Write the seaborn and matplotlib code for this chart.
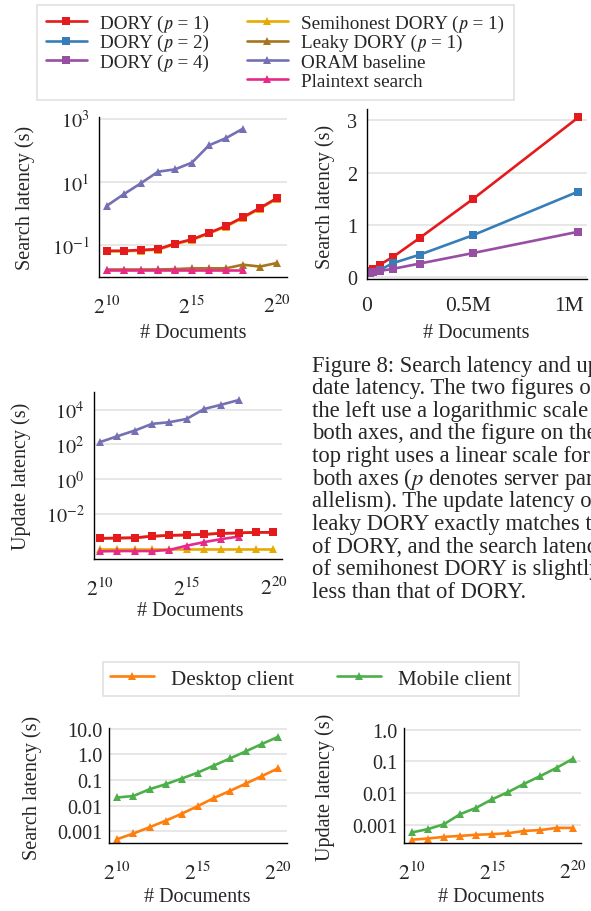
import numpy as np
import pandas as pd
import matplotlib
matplotlib.use("Agg")
import matplotlib.pyplot as plt
import seaborn as sns
from matplotlib.lines import Line2D

# ---------------- data ----------------
docs_log = [2**10, 2**11, 2**12, 2**13, 2**14, 2**15, 2**16, 2**17, 2**18, 2**19, 2**20]
docs_short = [2**10, 2**11, 2**12, 2**13, 2**14, 2**15, 2**16, 2**17, 2**18]
docs_lin = [2**14, 2**15, 2**16, 2**17, 2**18, 2**19, 2**20]

search_dory1 = [0.065, 0.065, 0.069, 0.073, 0.11, 0.15, 0.24, 0.40, 0.76, 1.49, 3.06]
search_semi = [0.062, 0.062, 0.066, 0.070, 0.105, 0.143, 0.23, 0.38, 0.72, 1.42, 2.92]
search_leaky = [0.0165, 0.0165, 0.0165, 0.0166, 0.017, 0.018, 0.018, 0.018, 0.0235, 0.0205, 0.0266]
search_oram = [1.76, 4.1, 9.1, 21, 25, 41, 145, 245, 490]
search_plain = [0.016, 0.016, 0.016, 0.016, 0.016, 0.016, 0.016, 0.016, 0.016]

lin_dory1 = [0.11, 0.16, 0.24, 0.39, 0.75, 1.49, 3.06]
lin_dory2 = [0.09, 0.10, 0.14, 0.27, 0.43, 0.80, 1.64]
lin_dory4 = [0.08, 0.09, 0.12, 0.16, 0.26, 0.46, 0.87]
lin_ticks = [0, 500000, 1000000]
lin_ticklabels = ["0", "0.5M", "1M"]

update_dory1 = [4.0e-4, 4.1e-4, 4.3e-4, 5.2e-4, 5.9e-4, 6.2e-4, 6.7e-4, 7.7e-4, 8.1e-4, 8.8e-4, 8.8e-4]
update_leaky = [4.0e-4, 4.1e-4, 4.3e-4, 5.2e-4, 5.9e-4, 6.2e-4, 6.7e-4, 7.7e-4, 8.1e-4, 8.8e-4, 8.8e-4]
update_semi = [1.0e-4, 1.0e-4, 1.0e-4, 1.0e-4, 1.0e-4, 1.0e-4, 1.0e-4, 1.0e-4, 1.0e-4, 1.0e-4, 1.0e-4]
update_oram = [137, 300, 630, 1540, 1910, 2960, 11000, 19500, 36000]
update_plain = [7.1e-5, 7.4e-5, 7.4e-5, 7.4e-5, 8.5e-5, 1.5e-4, 2.4e-4, 3.6e-4, 5.0e-4]

desktop_search = [5.0e-4, 8.3e-4, 1.45e-3, 2.6e-3, 4.9e-3, 9.7e-3, 0.020, 0.038, 0.074, 0.146, 0.29]
mobile_search = [0.021, 0.024, 0.044, 0.069, 0.115, 0.196, 0.37, 0.70, 1.34, 2.6, 4.9]
desktop_update = [3.5e-4, 3.8e-4, 4.3e-4, 4.6e-4, 5.0e-4, 5.2e-4, 5.6e-4, 6.6e-4, 7.0e-4, 8.2e-4, 8.2e-4]
mobile_update = [5.9e-4, 7.5e-4, 1.07e-3, 2.2e-3, 3.5e-3, 6.5e-3, 0.011, 0.020, 0.035, 0.063, 0.12]

# italic p as the math-italic character (U+1D45D), so all legend rows are plain text
labels_main = ["DORY (\U0001D45D = 1)", "DORY (\U0001D45D = 2)", "DORY (\U0001D45D = 4)",
               "Semihonest DORY (\U0001D45D = 1)", "Leaky DORY (\U0001D45D = 1)",
               "ORAM baseline", "Plaintext search"]
labels_client = ["Desktop client", "Mobile client"]

caption_lines = [
    "Figure 8: Search latency and up-",
    "date latency. The two figures on",
    "the left use a logarithmic scale for",
    "both axes, and the figure on the",
    "top right uses a linear scale for",
    "both axes ($p$ denotes server par-",
    "allelism). The update latency of",
    "leaky DORY exactly matches that",
    "of DORY, and the search latency",
    "of semihonest DORY is slightly",
    "less than that of DORY.",
]

# ---------------- style ----------------
sns.set_style("white")
plt.rcParams['font.family'] = ['Liberation Serif', 'STIXGeneral', 'DejaVu Serif']
plt.rcParams['mathtext.fontset'] = 'stix'
plt.rcParams['axes.unicode_minus'] = True
FS = 14.5
FSX = 15.5

C = {
    "d1": "#e41a1c", "d2": "#377eb8", "d4": "#984ea3",
    "semi": "#e6ab02", "leaky": "#a6761d", "oram": "#7570b3", "plain": "#e7298a",
    "desk": "#ff7f0e", "mob": "#4daf4a",
}
LW = 1.9
MS = 6

W, H = 591, 912
fig = plt.figure(figsize=(W / 100, H / 100), dpi=100)


def add_ax(l, r, t, b):
    return fig.add_axes([l / W, 1 - b / H, (r - l) / W, (b - t) / H])


def style(ax, xpad=13, ypad=7):
    ax.grid(False)
    ax.yaxis.grid(True, color="#e3e3e3", linewidth=1.2)
    ax.set_axisbelow(True)
    for s in ["top", "right"]:
        ax.spines[s].set_visible(False)
    for s in ["left", "bottom"]:
        ax.spines[s].set_color("black")
        ax.spines[s].set_linewidth(1.0)
    ax.tick_params(axis="both", which="both", length=0)
    ax.tick_params(axis="x", pad=xpad, labelsize=FSX)
    ax.tick_params(axis="y", pad=ypad, labelsize=FS)
    ax.minorticks_off()


def line(ax, x, y, color, marker):
    sns.lineplot(x=x, y=y, ax=ax, color=color, marker=marker, markersize=MS,
                 markeredgewidth=0, linewidth=LW, legend=False,
                 estimator=None, sort=False)


def set_labels(ax, box, xl, yl, xlab_xy, ylab_xy):
    l, r, t, b = box
    ax.set_xlabel(xl, fontsize=FS, va="center")
    ax.set_ylabel(yl, fontsize=FS, va="center")
    ax.xaxis.set_label_coords((xlab_xy[0] - l) / (r - l), (b - xlab_xy[1]) / (b - t))
    ax.yaxis.set_label_coords((ylab_xy[0] - l) / (r - l), (b - ylab_xy[1]) / (b - t))


def log2x(ax, lo, hi):
    ax.set_xscale("log", base=2)
    ax.set_xlim(2**lo, 2**hi)
    ax.set_xticks([2**10, 2**15, 2**20])
    ax.set_xticklabels(["$2^{10}$", "$2^{15}$", "$2^{20}$"])
    ax.minorticks_off()


# ---- top-left: search latency (log) ----
b1 = (99, 287, 118, 278)
ax1 = add_ax(*b1)
line(ax1, docs_log, search_semi, C["semi"], "^")
line(ax1, docs_log, search_leaky, C["leaky"], "^")
line(ax1, docs_short, search_oram, C["oram"], "^")
line(ax1, docs_short, search_plain, C["plain"], "^")
line(ax1, docs_log, search_dory1, C["d1"], "s")
ax1.set_yscale("log")
ax1.set_ylim(10**-2.02, 10**3.06)
ax1.set_yticks([1e-1, 1e1, 1e3])
ax1.set_yticklabels(["$10^{-1}$", "$10^{1}$", "$10^{3}$"])
log2x(ax1, 9.53, 20.59)
style(ax1)
set_labels(ax1, b1, "# Documents", "Search latency (s)", (193, 333), (25, 198))

# ---- top-right: linear ----
b2 = (366.7, 586.7, 110, 280)
ax2 = add_ax(*b2)
line(ax2, docs_lin, lin_dory1, C["d1"], "s")
line(ax2, docs_lin, lin_dory2, C["d2"], "s")
line(ax2, docs_lin, lin_dory4, C["d4"], "s")
ax2.set_xlim(0, 1.09e6)
ax2.set_ylim(-0.035, 3.22)
ax2.set_xticks(lin_ticks)
ax2.set_xticklabels(lin_ticklabels)
ax2.set_yticks([0, 1, 2, 3])
ax2.set_yticklabels(["0", "1", "2", "3"])
style(ax2, xpad=12)
set_labels(ax2, b2, "# Documents", "Search latency (s)", (476, 333), (325, 197))

# ---- mid-left: update latency ----
b3 = (94.3, 281.7, 393, 560)
ax3 = add_ax(*b3)
line(ax3, docs_log, update_semi, C["semi"], "^")
line(ax3, docs_short, update_plain, C["plain"], "^")
line(ax3, docs_log, update_leaky, C["leaky"], "^")
line(ax3, docs_short, update_oram, C["oram"], "^")
line(ax3, docs_log, update_dory1, C["d1"], "s")
ax3.set_yscale("log")
ax3.set_ylim(10**-4.59, 10**5.02)
ax3.set_yticks([1e-2, 1e0, 1e2, 1e4])
ax3.set_yticklabels(["$10^{-2}$", "$10^{0}$", "$10^{2}$", "$10^{4}$"])
log2x(ax3, 9.67, 20.48)
style(ax3)
set_labels(ax3, b3, "# Documents", "Update latency (s)", (190, 612), (21.5, 476))

# ---- bottom-left: client search ----
b4 = (109.3, 286.7, 729.3, 844.3)
ax4 = add_ax(*b4)
line(ax4, docs_log, desktop_search, C["desk"], "^")
line(ax4, docs_log, mobile_search, C["mob"], "^")
ax4.set_yscale("log")
ax4.set_ylim(10**-3.465, 10**1.02)
ax4.set_yticks([1e-3, 1e-2, 1e-1, 1e0, 1e1])
ax4.set_yticklabels(["0.001", "0.01", "0.1", "1.0", "10.0"])
log2x(ax4, 9.5, 20.52)
style(ax4, ypad=5)
set_labels(ax4, b4, "# Documents", "Search latency (s)", (197.5, 898), (31.7, 787.5))

# ---- bottom-right: client update ----
b5 = (404, 580.7, 729.3, 844)
ax5 = add_ax(*b5)
line(ax5, docs_log, desktop_update, C["desk"], "^")
line(ax5, docs_log, mobile_update, C["mob"], "^")
ax5.set_yscale("log")
ax5.set_ylim(10**-3.56, 10**0.04)
ax5.set_yticks([1e-3, 1e-2, 1e-1, 1e0])
ax5.set_yticklabels(["0.001", "0.01", "0.1", "1.0"])
log2x(ax5, 9.52, 20.5)
style(ax5, ypad=5)
set_labels(ax5, b5, "# Documents", "Update latency (s)", (491.7, 898), (325, 787))


# ---------------- legends ----------------
def handle(color, marker):
    return Line2D([], [], color=color, marker=marker, markersize=MS,
                  markeredgewidth=0, linewidth=LW)


main_colors = [C["d1"], C["d2"], C["d4"], C["semi"], C["leaky"], C["oram"], C["plain"]]
main_markers = ["s", "s", "s", "^", "^", "^", "^"]
hs = [handle(c, m) for c, m in zip(main_colors, main_markers)]
blank = Line2D([], [], linestyle="none")
hs_order = hs[:3] + [blank] + hs[3:]
labs_order = labels_main[:3] + [" "] + labels_main[3:]
leg1 = fig.legend(hs_order, labs_order, ncol=2, loc="upper left",
                  bbox_to_anchor=(36.7 / W, 1 - 6 / H), fontsize=13.8,
                  frameon=True, fancybox=False, edgecolor="#d5d5d5",
                  handlelength=2.1, handletextpad=0.7, columnspacing=2.0,
                  labelspacing=0.1, borderpad=0.5, borderaxespad=0)
leg1.get_frame().set_linewidth(1.1)

hs2 = [handle(C["desk"], "^"), handle(C["mob"], "^")]
leg2 = fig.legend(hs2, labels_client, ncol=2, loc="upper left",
                  bbox_to_anchor=(102.7 / W, 1 - 662.7 / H), fontsize=15.2,
                  frameon=True, fancybox=False, edgecolor="#d5d5d5",
                  handlelength=2.1, handletextpad=0.8, columnspacing=2.0,
                  borderpad=0.35, borderaxespad=0)
leg2.get_frame().set_linewidth(1.1)

# ---------------- caption ----------------
for i, txt in enumerate(caption_lines):
    fig.text(311.7 / W, 1 - (371.7 + 22.6 * i) / H, txt, fontsize=16.3,
             ha="left", va="baseline")

fig.savefig("out.png", dpi=100)
